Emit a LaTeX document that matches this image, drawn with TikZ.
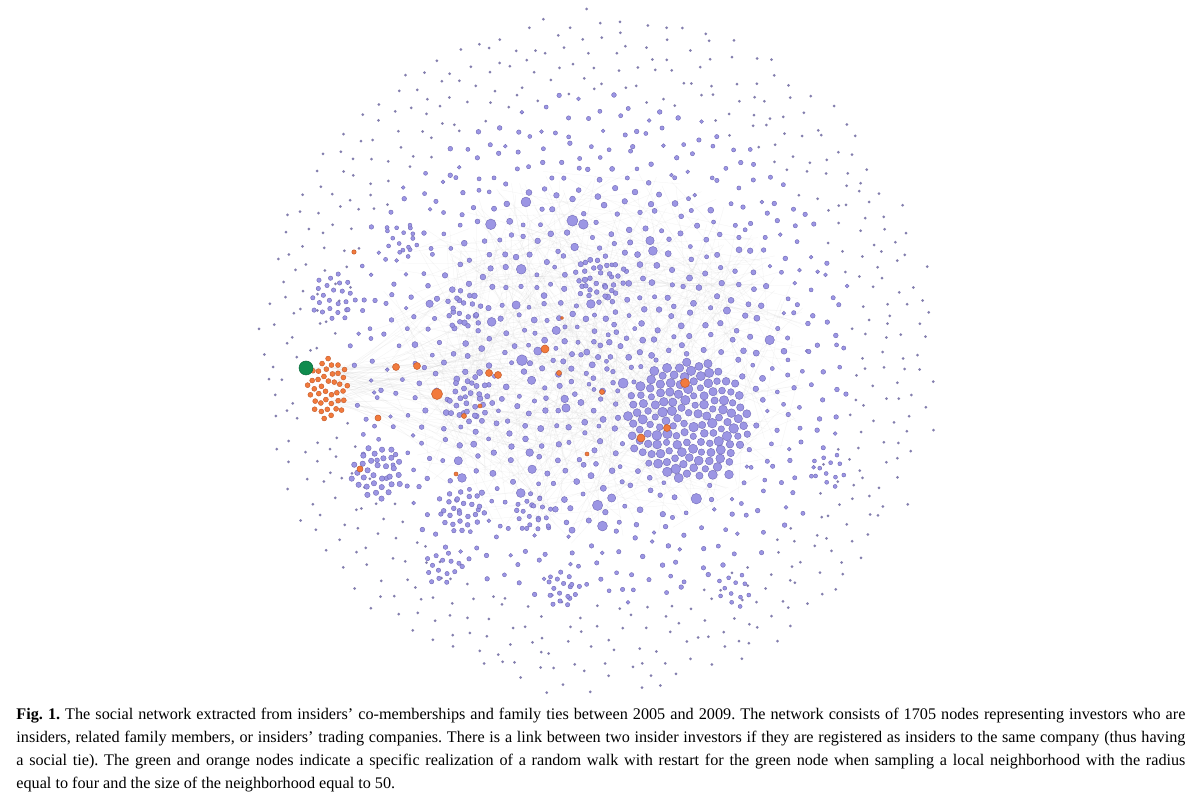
\documentclass[tikz,border=0pt]{standalone}
\usepackage{fontspec}
\setmainfont{Liberation Serif}
\definecolor{lav}{HTML}{9C96E4}
\definecolor{lavd}{HTML}{6F68B5}
\definecolor{dotg}{HTML}{837EAE}
\definecolor{walk}{HTML}{F27A3C}
\definecolor{walkd}{HTML}{C2592A}
\definecolor{seed}{HTML}{0F8C4E}
\definecolor{seedd}{HTML}{0B6A3B}

\begin{document}
\begin{tikzpicture}[x=0.5pt,y=-0.5pt,
  inv/.style={fill=lav,draw=lavd,line width=0.2pt},
  far/.style={fill=dotg},
  ow/.style={fill=walk,draw=walkd,line width=0.2pt},
  tie/.style={black!30,opacity=0.18,line width=0.12pt},
  rw/.style={circle,fill=walk,draw=walkd,line width=0.25pt,inner sep=0pt}]
\useasboundingbox (0,0) rectangle (1200,801);
\fill[white] (0,0) rectangle (1200,801);
\pgfmathsetseed{1705}

% faint ties in the core
\foreach \i in {1,...,450}{
\pgfmathsetmacro\aA{360*rnd}\pgfmathsetmacro\rA{sqrt(rnd)}
\pgfmathsetmacro\aB{360*rnd}\pgfmathsetmacro\rB{sqrt(rnd)}
\draw[tie] ({590+220*\rA*cos(\aA)},{355+190*\rA*sin(\aA)}) -- ({590+220*\rB*cos(\aB)},{355+190*\rB*sin(\aB)});}
\foreach \i in {1,...,60}{
\pgfmathsetmacro\aB{360*rnd}\pgfmathsetmacro\rB{sqrt(rnd)}
\draw[tie] ({327+12*rnd},{387+40*(rnd-0.5)}) -- ({500+120*\rB*cos(\aB)},{380+100*\rB*sin(\aB)});}

% single investors on a jittered spiral
\foreach \k in {1,...,1300}{
\pgfmathsetmacro\rA{340*(\k/1300)^0.6}
\pgfmathsetmacro\aA{360*frac(0.381966*\k)}
\pgfmathsetmacro\jit{\rA>185 ? 13 : 8}
\pgfmathsetmacro\px{598+\rA*cos(\aA)+\jit*(rnd-0.5)}
\pgfmathsetmacro\py{352+\rA*sin(\aA)+\jit*(rnd-0.5)}
\pgfmathtruncatemacro\keep{and(((\px-327)/28)^2+((\py-387)/38)^2>1,((\px-688)/66)^2+((\py-420)/64)^2>1)}
\pgfmathtruncatemacro\band{\rA>255 ? 2 : (\rA>185 ? 1 : 0)}
\pgfmathsetmacro\sz{\band==1 ? 1.9+0.5*rnd : (rnd<0.11 ? 3.6+2*rnd : 2.0+1.1*rnd)}
\ifnum\keep=1
  \ifnum\band=2 \fill[far] (\px,\py) circle (1.5);
  \else \filldraw[inv] (\px,\py) circle (\sz);\fi
\fi}

% small communities
\foreach \cx/\cy/\R/\n/\s in {377/472/27/32/2.7,333/297/24/24/2.2,563/590/18/15/2.2,463/510/22/22/2.4,
  442/567/18/14/2.2,533/513/20/16/2.2,463/310/20/16/2.4,403/240/18/12/2.0,470/400/24/24/2.6,
  600/280/26/26/2.4,735/590/18/12/2.0,830/470/18/12/2.0}{
\foreach \k in {1,...,\n}{
\filldraw[inv] ({\cx+\R*sqrt(\k/\n)*cos(360*frac(0.381966*\k))},{\cy+\R*sqrt(\k/\n)*sin(360*frac(0.381966*\k))}) circle (\s);}}

% large community
\foreach \k in {1,...,135}{
\pgfmathsetmacro\sz{3.1+1.8*rnd}
\filldraw[inv] ({688+62*sqrt(\k/135)*cos(360*frac(0.381966*\k))},{420+60*sqrt(\k/135)*sin(360*frac(0.381966*\k))}) circle (\sz);}

% sampled neighbourhood
\foreach \k in {1,...,40}{
\filldraw[ow] ({328+21*sqrt(\k/40)*cos(360*frac(0.381966*\k))},{388+31*sqrt(\k/40)*sin(360*frac(0.381966*\k))}) circle (2.5);}
\node[circle,fill=seed,draw=seedd,line width=0.25pt,minimum size=7pt,inner sep=0pt] (g) at (306,368) {};
\foreach \n/\x/\y/\d in {o1/396/367/3.5,o2/417/366/3.5,o3/437/394/5.5,o4/464/416/2.5,o5/480/406/2,
  o6/378/418/3,o7/354/252/2.2,o8/545/349/4,o9/489/373/3.5,o10/498/375/3.5,o11/559/373/2.5,
  o12/562/318/1.6,o13/685/383/4.5,o14/667/428/3.5,o15/641/438/4,o16/602/392/2.5,o17/360/469/3,
  o18/456/474/2,o19/587/454/2}{
\node[rw,minimum size=\d pt] (\n) at (\x,\y) {};}
\foreach \n in {o1,o2,o3,o6,o9}{\draw[tie] (g) -- (\n);}

% caption
\begin{scope}[every node/.style={anchor=base west,inner sep=0pt,font=\fontsize{8.1}{11.5}\selectfont\frenchspacing}]
\node (l1) at (16,720) {\makebox[584.5pt][s]{\textbf{Fig. 1.} The social network extracted from insiders' co-memberships and family ties between 2005 and 2009. The network consists of 1705 nodes representing investors who are}};
\node (l2) at (16,743) {\makebox[584.5pt][s]{insiders, related family members, or insiders' trading companies. There is a link between two insider investors if they are registered as insiders to the same company (thus having}};
\node (l3) at (16,766) {\makebox[584.5pt][s]{a social tie). The green and orange nodes indicate a specific realization of a random walk with restart for the green node when sampling a local neighborhood with the radius}};
\node (l4) at (16,789) {equal to four and the size of the neighborhood equal to 50.};
\end{scope}
\end{tikzpicture}
\end{document}
